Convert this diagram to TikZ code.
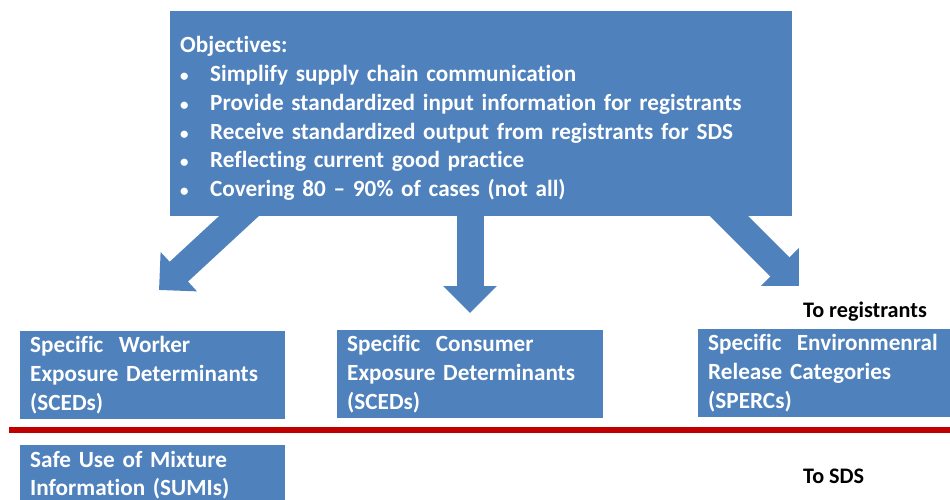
\documentclass[tikz,border=0pt]{standalone}
\usepackage{fontspec}
\setmainfont{Carlito}[Ligatures=NoCommon]
\usetikzlibrary{arrows.meta,positioning}
\definecolor{boxblue}{HTML}{4F81BD}
\definecolor{linered}{HTML}{C00000}
\tikzset{bluebox/.style={rectangle, fill=boxblue, text=white, inner sep=0pt,
  anchor=north west, align=left, font=\fontsize{23.2}{28.8}\selectfont\bfseries},
  fat/.style={draw=boxblue, line width=27pt,
  -{Triangle[width=52pt,length=27pt]}},
  note/.style={inner sep=0pt, anchor=base west, font=\fontsize{22.2}{26}\selectfont\bfseries}}
\newcommand{\bul}[1]{\makebox[30pt][l]{\fontsize{17}{17}\selectfont\textbullet}#1}
\begin{document}
\begin{tikzpicture}[x=1pt,y=-1pt]
  \useasboundingbox (0,0) rectangle (950,499);
  % arrows first, the box covers their tails
  \coordinate (lfrom) at (252,204);
  \coordinate (lto) at (159,290);
  \coordinate (mfrom) at (470,205);
  \coordinate (mto) at (470,313);
  \coordinate (rfrom) at (716,203);
  \coordinate (rto) at (799,286);
  \draw [fat] (lfrom) -- (lto);
  \draw [fat] (mfrom) -- (mto);
  \draw [fat] (rfrom) -- (rto);

  \node (obj) [bluebox, minimum width=622pt, minimum height=205pt,
    text width=602pt, inner xsep=10pt] at (170,11) {\rule{0pt}{26pt}Objectives:\\
    \bul{Simplify supply chain communication}\\
    \bul{Provide standardized input information for registrants}\\
    \bul{Receive standardized output from registrants for SDS}\\
    \bul{Reflecting current good practice}\\
    \bul{Covering 80 -- 90\% of cases (not all)}};

  \node (worker) [bluebox, minimum width=265pt, minimum height=88pt,
    text width=245pt, inner xsep=10pt] at (20,331)
    {Specific\ \ Worker\\Exposure Determinants\\(SCEDs)};
  \node (consumer) [bluebox, minimum width=266pt, minimum height=88pt,
    text width=246pt, inner xsep=10pt] at (337,330)
    {Specific\ \ Consumer\\Exposure Determinants\\(SCEDs)};
  \node (env) [bluebox, minimum width=262pt, minimum height=88pt,
    text width=242pt, inner xsep=10pt] at (698,329)
    {Specific\ \ Environmenral\\Release Categories\\(SPERCs)};
  \node (sumi) [bluebox, minimum width=265pt, minimum height=60pt,
    text width=245pt, inner xsep=10pt, inner ysep=4pt] at (20,445)
    {Safe Use of Mixture\\Information (SUMIs)};

  \coordinate (redl) at (9,430);
  \coordinate (redr) at (950,430);
  \draw [linered, line width=6pt] (redl) -- (redr);

  \node (toreg) [note] at (803,317) {To registrants};
  \node (tosds) [note] at (803,483) {To SDS};
\end{tikzpicture}
\end{document}
